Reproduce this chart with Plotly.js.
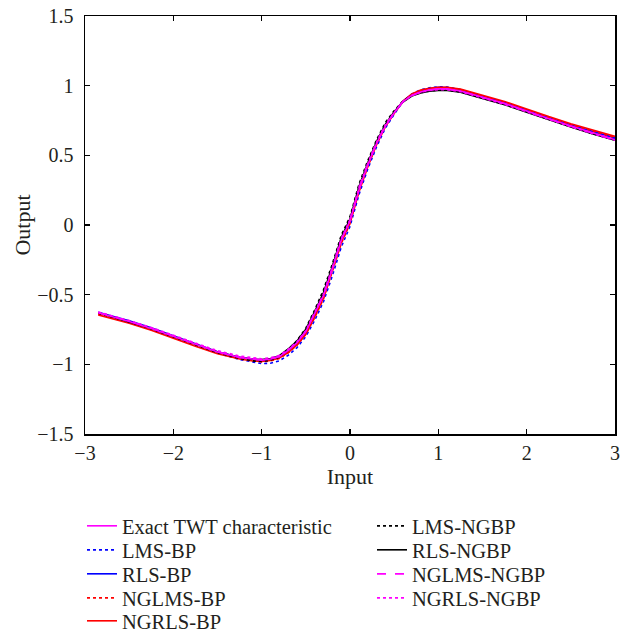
<!DOCTYPE html>
<html>
<head>
<meta charset="utf-8">
<script src="https://cdn.plot.ly/plotly-3.0.1.min.js"></script>
<style>html,body{margin:0;padding:0;background:#fff;}#chart{width:626px;height:637px;}</style>
</head>
<body>
<div id="chart"></div>
<script>
// Input values (x) shared by all series
const inputX = [-2.85,-2.5,-2.25,-2,-1.75,-1.5,-1.25,-1.1,-1,-0.9,-0.8,-0.7,-0.6,-0.5,-0.4,-0.3,-0.2,-0.1,0,0.1,0.2,0.3,0.4,0.5,0.6,0.7,0.8,0.9,1,1.1,1.25,1.5,1.75,2,2.1,2.25,2.5,2.75,3];

const exactTWT = [-0.630,-0.692,-0.742,-0.800,-0.858,-0.912,-0.950,-0.965,-0.970,-0.962,-0.945,-0.900,-0.845,-0.765,-0.640,-0.505,-0.315,-0.110,0.030,0.250,0.430,0.585,0.710,0.805,0.885,0.930,0.955,0.970,0.978,0.977,0.962,0.918,0.872,0.818,0.795,0.762,0.710,0.660,0.612];
const lmsBP = [-0.628,-0.690,-0.740,-0.800,-0.860,-0.918,-0.965,-0.985,-0.995,-0.992,-0.975,-0.935,-0.880,-0.800,-0.685,-0.550,-0.365,-0.160,-0.010,0.215,0.400,0.560,0.695,0.795,0.885,0.940,0.970,0.985,0.992,0.990,0.972,0.925,0.876,0.818,0.797,0.765,0.713,0.665,0.622];
const rlsBP = [-0.626,-0.688,-0.738,-0.796,-0.855,-0.910,-0.950,-0.966,-0.972,-0.965,-0.948,-0.905,-0.848,-0.768,-0.645,-0.508,-0.318,-0.112,0.028,0.255,0.430,0.586,0.712,0.808,0.890,0.938,0.964,0.980,0.988,0.986,0.970,0.925,0.880,0.825,0.802,0.770,0.718,0.670,0.625];
const nglmsBP = [-0.640,-0.700,-0.750,-0.808,-0.866,-0.920,-0.960,-0.975,-0.982,-0.975,-0.958,-0.918,-0.862,-0.785,-0.665,-0.530,-0.340,-0.135,0.010,0.235,0.415,0.575,0.705,0.800,0.885,0.935,0.962,0.978,0.985,0.984,0.970,0.926,0.880,0.826,0.803,0.771,0.720,0.672,0.628];
const ngrlsBP = [-0.645,-0.705,-0.756,-0.814,-0.870,-0.924,-0.962,-0.976,-0.980,-0.972,-0.955,-0.915,-0.860,-0.782,-0.660,-0.522,-0.332,-0.126,0.020,0.245,0.425,0.582,0.710,0.806,0.890,0.940,0.968,0.982,0.988,0.988,0.975,0.932,0.887,0.833,0.810,0.778,0.727,0.680,0.636];
const lmsNGBP = [-0.632,-0.694,-0.745,-0.803,-0.862,-0.916,-0.958,-0.975,-0.980,-0.970,-0.948,-0.895,-0.830,-0.740,-0.610,-0.465,-0.280,-0.075,0.060,0.290,0.460,0.610,0.735,0.820,0.890,0.930,0.950,0.962,0.968,0.968,0.955,0.912,0.866,0.812,0.790,0.757,0.705,0.655,0.610];
const rlsNGBP = [-0.630,-0.693,-0.743,-0.800,-0.858,-0.912,-0.950,-0.963,-0.966,-0.958,-0.938,-0.890,-0.832,-0.748,-0.622,-0.485,-0.298,-0.092,0.045,0.272,0.445,0.598,0.722,0.812,0.883,0.925,0.948,0.960,0.966,0.966,0.953,0.910,0.864,0.810,0.788,0.755,0.704,0.654,0.608];
const nglmsNGBP = [-0.628,-0.690,-0.740,-0.798,-0.856,-0.910,-0.950,-0.964,-0.968,-0.960,-0.942,-0.898,-0.842,-0.762,-0.636,-0.500,-0.310,-0.105,0.034,0.262,0.436,0.590,0.716,0.806,0.886,0.930,0.955,0.968,0.975,0.974,0.960,0.916,0.870,0.815,0.793,0.760,0.708,0.658,0.612];
const ngrlsNGBP = [-0.624,-0.686,-0.736,-0.793,-0.850,-0.902,-0.940,-0.955,-0.960,-0.952,-0.935,-0.892,-0.838,-0.758,-0.632,-0.496,-0.306,-0.100,0.038,0.266,0.440,0.593,0.718,0.808,0.886,0.930,0.953,0.966,0.972,0.971,0.957,0.913,0.866,0.812,0.790,0.757,0.705,0.655,0.608];

const seriesNames = ["Exact TWT characteristic","LMS-BP","RLS-BP","NGLMS-BP","NGRLS-BP","LMS-NGBP","RLS-NGBP","NGLMS-NGBP","NGRLS-NGBP"];
const xTicks = [-3,-2,-1,0,1,2,3];
const yTicks = [-1.5,-1,-0.5,0,0.5,1,1.5];

const styles = [
  {y: exactTWT,   color:'#ff00ff', dash:'solid'},
  {y: lmsBP,      color:'#0000ff', dash:'dot'},
  {y: rlsBP,      color:'#0000ff', dash:'solid'},
  {y: nglmsBP,    color:'#ff0000', dash:'dot'},
  {y: ngrlsBP,    color:'#ff0000', dash:'solid'},
  {y: lmsNGBP,    color:'#000000', dash:'dot'},
  {y: rlsNGBP,    color:'#000000', dash:'solid'},
  {y: nglmsNGBP,  color:'#ff00ff', dash:'dash'},
  {y: ngrlsNGBP,  color:'#ff00ff', dash:'dot'}
];

const legendIds = styles.map((s, i) => i === 0 ? 'legend' : 'legend' + (i + 1));

const traces = styles.map((s, i) => ({
  x: inputX, y: s.y, type:'scatter', mode:'lines', name: seriesNames[i],
  line:{color:s.color, dash:s.dash, width:1.6},
  legend: legendIds[i]
}));
// draw exact characteristic on top
const ordered = traces.slice(1).concat([traces[0]]);

const fontFam = '"Liberation Serif", "DejaVu Serif", serif';
const txtCol = '#231f20';
const axisCommon = {
  showline:true, linecolor:'#000', linewidth:1.5, mirror:'ticks',
  ticks:'inside', ticklen:5, tickwidth:1.2, tickcolor:'#000',
  showgrid:false, zeroline:false,
  tickfont:{family:fontFam, size:20, color:txtCol}
};

const layout = {
  width:626, height:637,
  margin:{l:85, r:11, t:16, b:203, autoexpand:false},
  paper_bgcolor:'#fff', plot_bgcolor:'#fff',
  font:{family:fontFam, size:20, color:txtCol},
  xaxis: Object.assign({}, axisCommon, {
    range:[-3,3], tickvals:xTicks,
    title:{text:'Input', font:{family:fontFam, size:22, color:txtCol}, standoff:6}
  }),
  yaxis: Object.assign({}, axisCommon, {
    range:[-1.5,1.5], tickvals:yTicks, ticklabelstandoff:6,
    title:{text:'Output', font:{family:fontFam, size:22, color:txtCol}, standoff:0}
  }),
  showlegend:true
};

// legend layout: two columns, one legend per entry
const plotTop = 16, plotH = 418;
const colLeft = [82, 372];
const rowY = [526, 550, 574, 598, 621];
legendIds.forEach((id, i) => {
  const col = i < 5 ? 0 : 1;
  const row = i < 5 ? i : i - 5;
  layout[id] = {
    x:(colLeft[col] - 85) / 530,
    y:(plotTop + plotH - rowY[row]) / plotH,
    xanchor:'left', yanchor:'middle', orientation:'v',
    bgcolor:'rgba(0,0,0,0)', borderwidth:0,
    font:{family:fontFam, size:20.5, color:txtCol}
  };
});

Plotly.newPlot('chart', ordered, layout, {displayModeBar:false, staticPlot:true});
</script>
</body>
</html>
